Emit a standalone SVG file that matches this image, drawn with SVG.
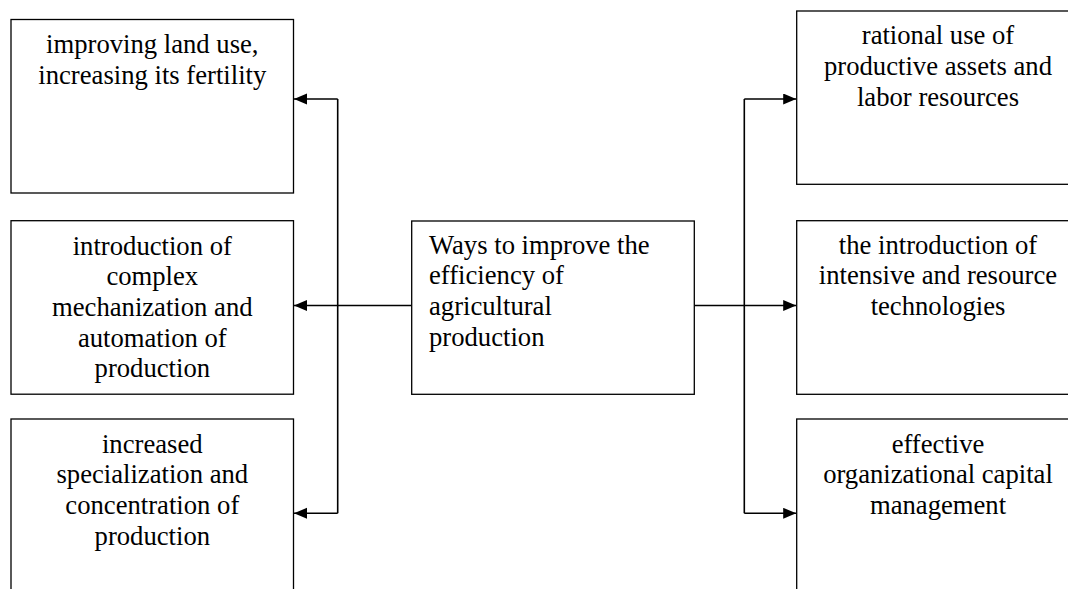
<svg xmlns="http://www.w3.org/2000/svg" width="1068" height="589" viewBox="0 0 1068 589">
<style>
.box{fill:#fff;stroke:#000;stroke-width:1.3}
.t{font-family:"Liberation Serif","Times New Roman",serif;font-size:26.67px;fill:#000}
.c{text-anchor:middle}
.ln{fill:none;stroke:#000;stroke-width:1.6}
</style>
<defs>
<marker id="ah" markerUnits="userSpaceOnUse" markerWidth="15" markerHeight="12" refX="13" refY="5.5" orient="auto">
<path d="M0,0 L13,5.5 L0,11 Z" fill="#000"/>
</marker>
</defs>
<rect width="1068" height="589" fill="#fff"/>
<g id="connectors">
<line class="ln" x1="411.7" y1="305.5" x2="294" y2="305.5" marker-end="url(#ah)"/>
<line class="ln" x1="337.7" y1="99" x2="337.7" y2="513.3"/>
<line class="ln" x1="337.7" y1="99" x2="294" y2="99" marker-end="url(#ah)"/>
<line class="ln" x1="337.7" y1="513.3" x2="294" y2="513.3" marker-end="url(#ah)"/>
<line class="ln" x1="694.3" y1="305.5" x2="796.2" y2="305.5" marker-end="url(#ah)"/>
<line class="ln" x1="744.3" y1="99" x2="744.3" y2="513.3"/>
<line class="ln" x1="744.3" y1="99" x2="796.2" y2="99" marker-end="url(#ah)"/>
<line class="ln" x1="744.3" y1="513.3" x2="796.2" y2="513.3" marker-end="url(#ah)"/>
</g>
<g id="n-land">
<rect class="box" x="11" y="19.5" width="282.5" height="173.5"/>
<text class="t c" x="152.3" y="53"><tspan x="152.3">improving land use,</tspan><tspan x="152.3" dy="30.7">increasing its fertility</tspan></text>
</g>
<g id="n-mech">
<rect class="box" x="11" y="220.7" width="282.5" height="173.5"/>
<text class="t c" x="152.3" y="254.5"><tspan x="152.3">introduction of</tspan><tspan x="152.3" dy="30.7">complex</tspan><tspan x="152.3" dy="30.7">mechanization and</tspan><tspan x="152.3" dy="30.7">automation of</tspan><tspan x="152.3" dy="30.7">production</tspan></text>
</g>
<g id="n-spec">
<rect class="box" x="11" y="419" width="282.5" height="174"/>
<text class="t c" x="152.3" y="452.7"><tspan x="152.3">increased</tspan><tspan x="152.3" dy="30.7">specialization and</tspan><tspan x="152.3" dy="30.7">concentration of</tspan><tspan x="152.3" dy="30.7">production</tspan></text>
</g>
<g id="n-center">
<rect class="box" x="411.7" y="221" width="282.6" height="173.3"/>
<text class="t" x="429" y="253.5"><tspan x="429">Ways to improve the</tspan><tspan x="429" dy="30.7">efficiency of</tspan><tspan x="429" dy="30.7">agricultural</tspan><tspan x="429" dy="30.7">production</tspan></text>
</g>
<g id="n-assets">
<rect class="box" x="796.7" y="11" width="282.5" height="173.3"/>
<text class="t c" x="938" y="44.3"><tspan x="938">rational use of</tspan><tspan x="938" dy="30.7">productive assets and</tspan><tspan x="938" dy="30.7">labor resources</tspan></text>
</g>
<g id="n-tech">
<rect class="box" x="796.7" y="220.7" width="282.5" height="173.6"/>
<text class="t c" x="938" y="253.5"><tspan x="938">the introduction of</tspan><tspan x="938" dy="30.7">intensive and resource</tspan><tspan x="938" dy="30.7">technologies</tspan></text>
</g>
<g id="n-capital">
<rect class="box" x="796.7" y="419" width="282.5" height="174"/>
<text class="t c" x="938" y="452.7"><tspan x="938">effective</tspan><tspan x="938" dy="30.7">organizational capital</tspan><tspan x="938" dy="30.7">management</tspan></text>
</g>
</svg>
